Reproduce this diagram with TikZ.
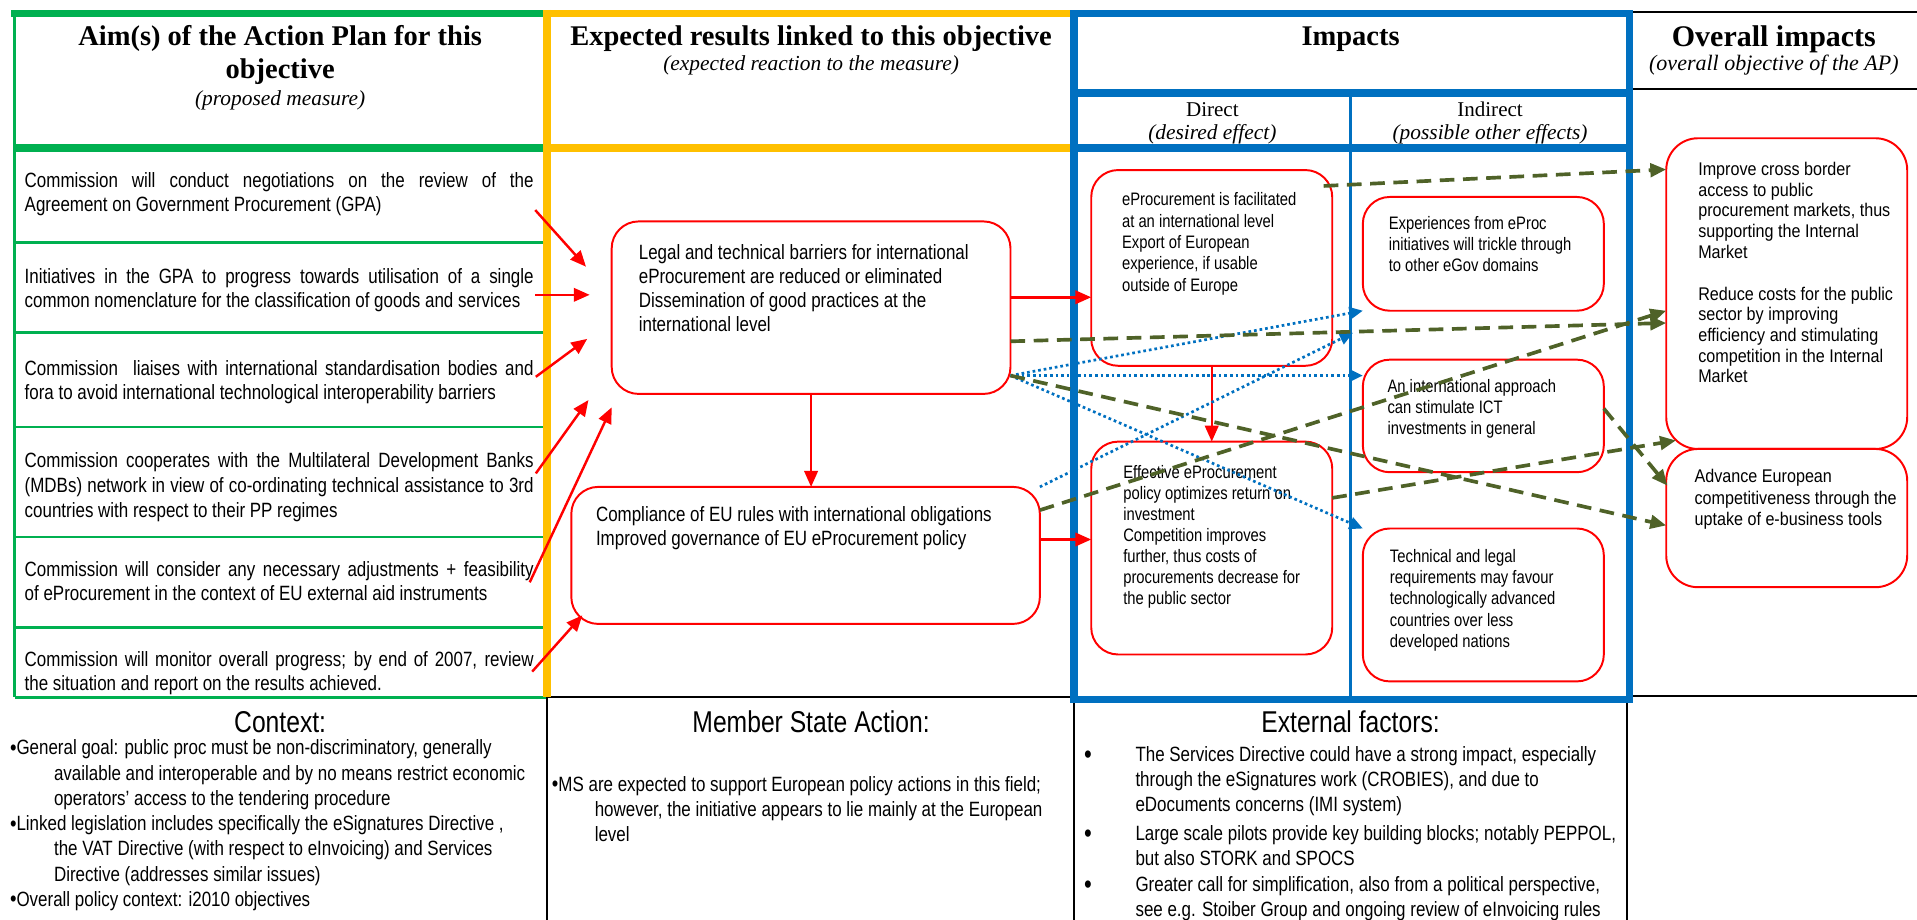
\documentclass[tikz,border=0pt]{standalone}
\usepackage{fontspec}
\setmainfont{Liberation Serif}
\newfontfamily\narf{Liberation Sans}[FakeStretch=0.82]
\newfontfamily\narg{Liberation Sans}[FakeStretch=0.88]
\usetikzlibrary{arrows.meta}
\definecolor{cgreen}{HTML}{00B050}
\definecolor{cyellow}{HTML}{FFC000}
\definecolor{cblue}{HTML}{0070C0}
\definecolor{cred}{HTML}{FF0000}
\definecolor{colive}{HTML}{4F6228}
\newcommand{\bulA}{\raisebox{-0.6pt}{\smash{\fontsize{18.5}{18.5}\selectfont\textbullet}}}
\newcommand{\bulB}{\raisebox{-1.6pt}{\smash{\fontsize{22}{22}\selectfont\textbullet}}}
\tikzset{
  gthick/.style={draw=cgreen, line width=6pt},
  gthin/.style={draw=cgreen, line width=2.2pt},
  ythick/.style={draw=cyellow, line width=6.2pt},
  bthick/.style={draw=cblue, line width=6pt},
  bthin/.style={draw=cblue, line width=1.8pt},
  blk/.style={draw=black, line width=1.8pt},
  rbox/.style={draw=cred, line width=1.6pt, rounded corners=22pt, inner sep=0pt, outer sep=0pt},
  obox/.style={rbox, rounded corners=26pt},
  hdr/.style={font={\bfseries\fontsize{23.3}{25}\selectfont}, inner sep=0pt, anchor=base},
  sub/.style={font={\itshape\fontsize{17.5}{20}\selectfont}, inner sep=0pt, anchor=base},
  subr/.style={font={\fontsize{17.2}{20}\selectfont}, inner sep=0pt, anchor=base},
  colt/.style={font={\narf\fontsize{16.9}{19.4}\selectfont}, anchor=north west, inner sep=0pt, align=left},
  bigt/.style={font={\narf\fontsize{16.9}{19.5}\selectfont}, anchor=north west, inner sep=0pt, align=left},
  boxt/.style={font={\narf\fontsize{14.75}{17.1}\selectfont}, anchor=north west, inner sep=0pt, align=left},
  obt/.style={font={\narg\fontsize{15}{16.9}\selectfont}, anchor=north west, inner sep=0pt, align=left},
  bhdr/.style={font={\narf\fontsize{24.6}{28}\selectfont}, inner sep=0pt, anchor=base},
  redarr/.style={draw=cred, line width=2pt, -{Triangle[length=13pt,width=11pt]}},
  bluearr/.style={draw=cblue, line width=2.2pt, dash pattern=on 2.2pt off 2.4pt, -{Triangle[length=11pt,width=10pt]}},
  olivearr/.style={draw=colive, line width=3pt, dash pattern=on 12pt off 7pt, -{Triangle[length=13pt,width=11pt]}},
}
\begin{document}
\begin{tikzpicture}[x=1pt,y=-1pt]
\useasboundingbox (0,0) rectangle (1567,752);

% ---------- frames ----------
\draw[gthin] (12,11) -- (12,570);
\foreach \yy in {198,272,349,439,513} \draw[gthin] (12,\yy) -- (444,\yy);
\draw[gthin] (12,570) -- (447,570);
\draw[gthick] (9,11) -- (447,11);
\draw[gthick] (12,121) -- (447,121);
\draw[blk] (447,570) -- (878,570);
\draw[blk] (447,570) -- (447,752);
\draw[blk] (878,570) -- (878,752);
\draw[blk] (1330,572) -- (1330,752);
\draw[blk] (1332,10) -- (1567,10);
\draw[blk] (1332,73) -- (1567,73);
\draw[blk] (1332,569) -- (1567,569);
\draw[ythick] (447,11) -- (878,11);
\draw[ythick] (447,121) -- (878,121);
\draw[ythick] (447,8) -- (447,570);
\draw[bthin] (1104,76) -- (1104,572);
\draw[bthick] (878,76) -- (1332,76);
\draw[bthick] (878,121) -- (1332,121);
\draw[bthick] (878,11) rectangle (1332,572);

% ---------- headers ----------
\node[hdr] (h1a) at (229,37.5) {Aim(s) of the Action Plan for this};
\node[hdr] (h1b) at (229,64.5) {objective};
\node[sub] (h1c) at (229,86) {(proposed measure)};
\node[hdr] (h2a) at (663,37.5) {Expected results linked to this objective};
\node[sub] (h2b) at (663,58) {(expected reaction to the measure)};
\node[hdr] (h3a) at (1104,37.5) {Impacts};
\node[subr] (h3b) at (991,95.5) {Direct};
\node[sub] (h3c) at (991,114) {(desired effect)};
\node[subr] (h3d) at (1218,95.5) {Indirect};
\node[sub] (h3e) at (1218,114) {(possible other effects)};
\node[hdr, font={\bfseries\fontsize{24.5}{26}\selectfont}] (h4a) at (1450,38) {Overall impacts};
\node[sub, font={\itshape\fontsize{18}{20}\selectfont}] (h4b) at (1450,57.5) {(overall objective of the AP)};

% ---------- column 1 rows ----------
\node[colt] (c1) at (20,140.7) {\makebox[416pt][s]{Commission will conduct negotiations on the review of the}\\Agreement on Government Procurement (GPA)};
\node[colt] (c2) at (20,219.7) {\makebox[416pt][s]{Initiatives in the GPA to progress towards utilisation of a single}\\common nomenclature for the classification of goods and services};
\node[colt] (c3) at (20,294.7) {\makebox[416pt][s]{Commission\ \ liaises with international standardisation bodies and}\\fora to avoid international technological interoperability barriers};
\node[colt, font={\narf\fontsize{16.9}{20.4}\selectfont}] (c4) at (20,369.7) {\makebox[416pt][s]{Commission cooperates with the Multilateral Development Banks}\\\makebox[416pt][s]{(MDBs) network in view of co-ordinating technical assistance to 3rd}\\countries with respect to their PP regimes};
\node[colt] (c5) at (20,458.7) {\makebox[416pt][s]{Commission will consider any necessary adjustments + feasibility}\\of eProcurement in the context of EU external aid instruments};
\node[colt] (c6) at (20,532.7) {\makebox[416pt][s]{Commission will monitor overall progress; by end of 2007, review}\\the situation and report on the results achieved.};

% ---------- boxes ----------
\node[rbox, minimum width=326pt, minimum height=141pt] (R1) at (663,251.5) {};
\node[rbox, minimum width=383pt, minimum height=112pt] (R2) at (658.5,454) {};
\node[rbox, minimum width=197pt, minimum height=160pt] (D1) at (990.5,219) {};
\node[rbox, minimum width=197pt, minimum height=174pt] (D2) at (990.5,448) {};
\node[rbox, minimum width=197pt, minimum height=93pt] (I1) at (1212.5,207.5) {};
\node[rbox, minimum width=197pt, minimum height=92pt] (I2) at (1212.5,340) {};
\node[rbox, minimum width=197pt, minimum height=125pt] (I3) at (1212.5,494.5) {};
\node[obox, minimum width=197pt, minimum height=254pt] (O1) at (1460.5,240) {};
\node[obox, minimum width=197pt, minimum height=113pt] (O2) at (1460.5,423.5) {};

\node[colt, font={\narf\fontsize{16.9}{19.8}\selectfont}] (R1t) at (522,199.4) {Legal and technical barriers for international\\eProcurement are reduced or eliminated\\Dissemination of good practices at the\\international level};
\node[colt, font={\narf\fontsize{16.9}{19.6}\selectfont}] (R2t) at (487,414.2) {Compliance of EU rules with international obligations\\Improved governance of EU eProcurement policy};
\node[boxt, font={\narf\fontsize{14.75}{17.5}\selectfont}] (D1t) at (917,157.2) {eProcurement is facilitated\\at an international level\\Export of European\\experience, if usable\\outside of Europe};
\node[boxt] (D2t) at (918,380.5) {Effective eProcurement\\policy optimizes return on\\investment\\Competition improves\\further, thus costs of\\procurements decrease for\\the public sector};
\node[boxt] (I1t) at (1135,177.1) {Experiences from eProc\\initiatives will trickle through\\to other eGov domains};
\node[boxt] (I2t) at (1134,310.1) {An international approach\\can stimulate ICT\\investments in general};
\node[boxt, font={\narf\fontsize{14.75}{17.3}\selectfont}] (I3t) at (1136,449) {Technical and legal\\requirements may favour\\technologically advanced\\countries over less\\developed nations};
\node[obt] (O1t) at (1388,132.4) {Improve cross border\\access to public\\procurement markets, thus\\supporting the Internal\\Market\\[17.5pt]Reduce costs for the public\\sector by improving\\efficiency and stimulating\\competition in the Internal\\Market};
\node[obt, font={\narg\fontsize{15}{17.4}\selectfont}] (O2t) at (1385,383.7) {Advance European\\competitiveness through the\\uptake of e-business tools};

% ---------- bottom sections ----------
\node[bhdr] (ctxh) at (229,599) {Context:};
\node[bigt, font={\narf\fontsize{16.9}{20.6}\selectfont}] (ctxt) at (8,604.7) {\bulA General goal: public proc must be non-discriminatory, generally\\\hspace*{36pt}available and interoperable and by no means restrict economic\\\hspace*{36pt}operators’ access to the tendering procedure\\\bulA Linked legislation includes specifically the eSignatures Directive ,\\\hspace*{36pt}the VAT Directive (with respect to eInvoicing) and Services\\\hspace*{36pt}Directive (addresses similar issues)\\\bulA Overall policy context: i2010 objectives};
\node[bhdr] (msh) at (663,599) {Member State Action:};
\node[bigt, font={\narf\fontsize{16.9}{20.5}\selectfont}] (mst) at (451,634.2) {\bulA MS are expected to support European policy actions in this field;\\\hspace*{35pt}however, the initiative appears to lie mainly at the European\\\hspace*{35pt}level};
\node[bhdr] (exh) at (1104,599) {External factors:};
\node[bigt, font={\narf\fontsize{16.9}{20.5}\selectfont}] (ex1) at (886,610.2) {\makebox[42pt][l]{\bulB}The Services Directive could have a strong impact, especially\\\hspace*{42pt}through the eSignatures work (CROBIES), and due to\\\hspace*{42pt}eDocuments concerns (IMI system)};
\node[bigt, font={\narf\fontsize{16.9}{20.5}\selectfont}] (ex2) at (886,674.3) {\makebox[42pt][l]{\bulB}Large scale pilots provide key building blocks; notably PEPPOL,\\\hspace*{42pt}but also STORK and SPOCS};
\node[bigt, font={\narf\fontsize{16.9}{20.5}\selectfont}] (ex3) at (886,716.2) {\makebox[42pt][l]{\bulB}Greater call for simplification, also from a political perspective,\\\hspace*{42pt}see e.g. Stoiber Group and ongoing review of eInvoicing rules};

% ---------- arrow end points ----------
\coordinate (a1s) at (437.5,171.7); \coordinate (a1e) at (479,218);
\coordinate (a2s) at (437.5,241);   \coordinate (a2e) at (482,241);
\coordinate (a3s) at (438,308);     \coordinate (a3e) at (480,277);
\coordinate (a4s) at (438,387);     \coordinate (a4e) at (481,327);
\coordinate (a5s) at (433,476);     \coordinate (a5e) at (500,333);
\coordinate (a6s) at (435,549);     \coordinate (a6e) at (476,503);
\coordinate (b2e) at (1106,272);
\coordinate (g1s) at (1082,152);
\coordinate (g5e) at (1370,360);
\coordinate (g6e) at (1363,397);

% ---------- red arrows ----------
\draw[redarr] (a1s) -- (a1e);
\draw[redarr] (a2s) -- (a2e);
\draw[redarr] (a3s) -- (a3e);
\draw[redarr] (a4s) -- (a4e);
\draw[redarr] (a5s) -- (a5e);
\draw[redarr] (a6s) -- (a6e);
\draw[redarr] (R1.south) -- (R1.south |- R2.north);
\draw[redarr] ([yshift=8.5pt]R1.east) -- ([yshift=8.5pt]R1.east -| D1.west);
\draw[redarr] ([yshift=13pt]R2.east) -- ([yshift=13pt]R2.east -| D2.west);
\draw[redarr] (D1.south) -- (D2.north);

% ---------- blue dotted arrows ----------
\draw[bluearr] ([yshift=-55.5pt]R1.east) -- (I1.south west);
\draw[bluearr] (R2.north east) -- (b2e);
\draw[bluearr] ([yshift=-55.5pt]R1.east) -- ([yshift=-55.5pt]R1.east -| I2.west);
\draw[bluearr] ([yshift=-55.5pt]R1.east) -- (I3.north west);

% ---------- olive dashed arrows ----------
\draw[olivearr] (g1s) -- ([yshift=101.5pt]O1.west);
\draw[olivearr] ([yshift=-27.5pt]R1.east) -- ([yshift=-24pt]O1.west);
\draw[olivearr] ([yshift=37pt]R2.east) -- ([yshift=-14pt]O1.west);
\draw[olivearr] ([yshift=-55.5pt]R1.east) -- ([yshift=-6pt]O2.west);
\draw[olivearr] ([yshift=41pt]D2.east) -- (g5e);
\draw[olivearr] ([yshift=6pt]I2.east) -- (g6e);
\end{tikzpicture}
\end{document}
